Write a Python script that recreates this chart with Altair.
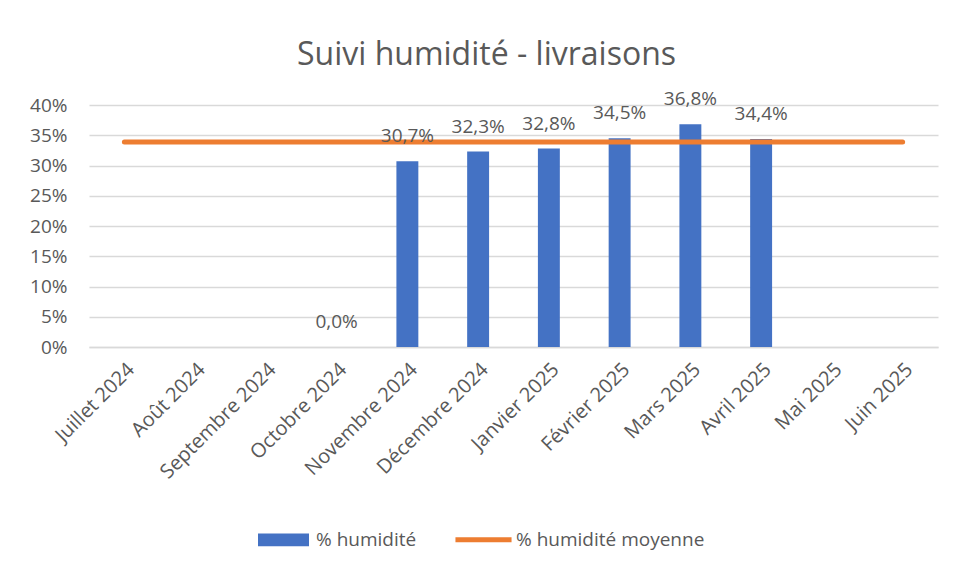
import altair as alt
import pandas as pd

mois = ["Juillet 2024", "Août 2024", "Septembre 2024", "Octobre 2024",
        "Novembre 2024", "Décembre 2024", "Janvier 2025", "Février 2025",
        "Mars 2025", "Avril 2025", "Mai 2025", "Juin 2025"]
humidite = [None, None, None, 0.0, 0.307, 0.323, 0.328, 0.345, 0.368, 0.344, None, None]
moyenne = [0.339, 0.339, 0.339, 0.339, 0.339, 0.339, 0.339, 0.339, 0.339, 0.339, 0.339, 0.339]
series = ["% humidité", "% humidité moyenne"]
couleurs = ["#4472C4", "#ED7D31"]
y_ticks = [0, 0.05, 0.10, 0.15, 0.20, 0.25, 0.30, 0.35, 0.40]

df = pd.DataFrame({"mois": mois, "humidite": humidite, "moyenne": moyenne})
legend_df = pd.DataFrame({"serie": series})

FONT = "Open Sans"
GREY = "#595959"

x_axis = alt.Axis(title=None, labelAngle=-45, ticks=False,
                  domainColor="#d9d9d9", domainWidth=1.5,
                  labelFontSize=20, labelFont=FONT, labelColor=GREY,
                  labelPadding=12)
x_scale = alt.Scale(paddingInner=0.69, paddingOuter=0.345)
y_scale = alt.Scale(domain=[0, 0.4])
y_axis = alt.Axis(title=None, values=y_ticks, format=".0%", domain=False, ticks=False,
                  tickSize=0, gridColor="#d9d9d9", gridWidth=1.5, labelOverlap=False,
                  labelFontSize=19, labelFont=FONT, labelColor=GREY, labelPadding=22)

base = alt.Chart(df)

bars = base.mark_bar(color="#4472C4").encode(
    x=alt.X("mois:N", sort=mois, scale=x_scale, axis=x_axis),
    y=alt.Y("humidite:Q", scale=y_scale, axis=y_axis),
)

line = base.mark_line(color="#ED7D31", strokeWidth=5, strokeCap="round").encode(
    x=alt.X("mois:N", sort=mois, scale=x_scale, axis=x_axis),
    y=alt.Y("moyenne:Q", scale=y_scale, axis=y_axis),
)

labels = base.transform_filter("isValid(datum.humidite)").transform_calculate(
    lab="replace(format(datum.humidite, '.1%'), '.', ',')"
).mark_text(dy=-25, fontSize=19, font=FONT, color=GREY).encode(
    x=alt.X("mois:N", sort=mois, scale=x_scale, axis=x_axis),
    y=alt.Y("humidite:Q", scale=y_scale, axis=y_axis),
    text="lab:N",
)

paths = ["M-1,-0.25H1V0.25H-1Z", "M-1.1,-0.1H1.1V0.1H-1.1Z"]
leg = alt.Legend(title=None, orient="none", legendX=169, legendY=409,
                 direction="horizontal", symbolSize=2601, symbolOpacity=1,
                 symbolStrokeWidth=0, labelFontSize=19, labelFont=FONT,
                 labelColor=GREY, labelOffset=7, columnPadding=38, padding=0,
                 labelLimit=400)
legend_layer = alt.Chart(legend_df).mark_point(filled=True, opacity=0).encode(
    color=alt.Color("serie:N", scale=alt.Scale(domain=series, range=couleurs), legend=leg),
    shape=alt.Shape("serie:N", scale=alt.Scale(domain=series, range=paths), legend=leg),
)

chart = alt.layer(bars, line, labels, legend_layer).properties(
    width=849, height=242,
    autosize=alt.AutoSizeParams(type="none"),
    padding={"left": 81, "top": 97, "right": 10, "bottom": 219},
    title=alt.TitleParams("Suivi humidité - livraisons", font=FONT, fontSize=32,
                          fontWeight="normal", color=GREY, anchor="middle", dx=-27,
                          dy=4, offset=22),
).configure(background="white").configure_view(strokeWidth=0, stroke="transparent")

chart.save("out.html", embed_options={"renderer": "svg", "actions": False})
